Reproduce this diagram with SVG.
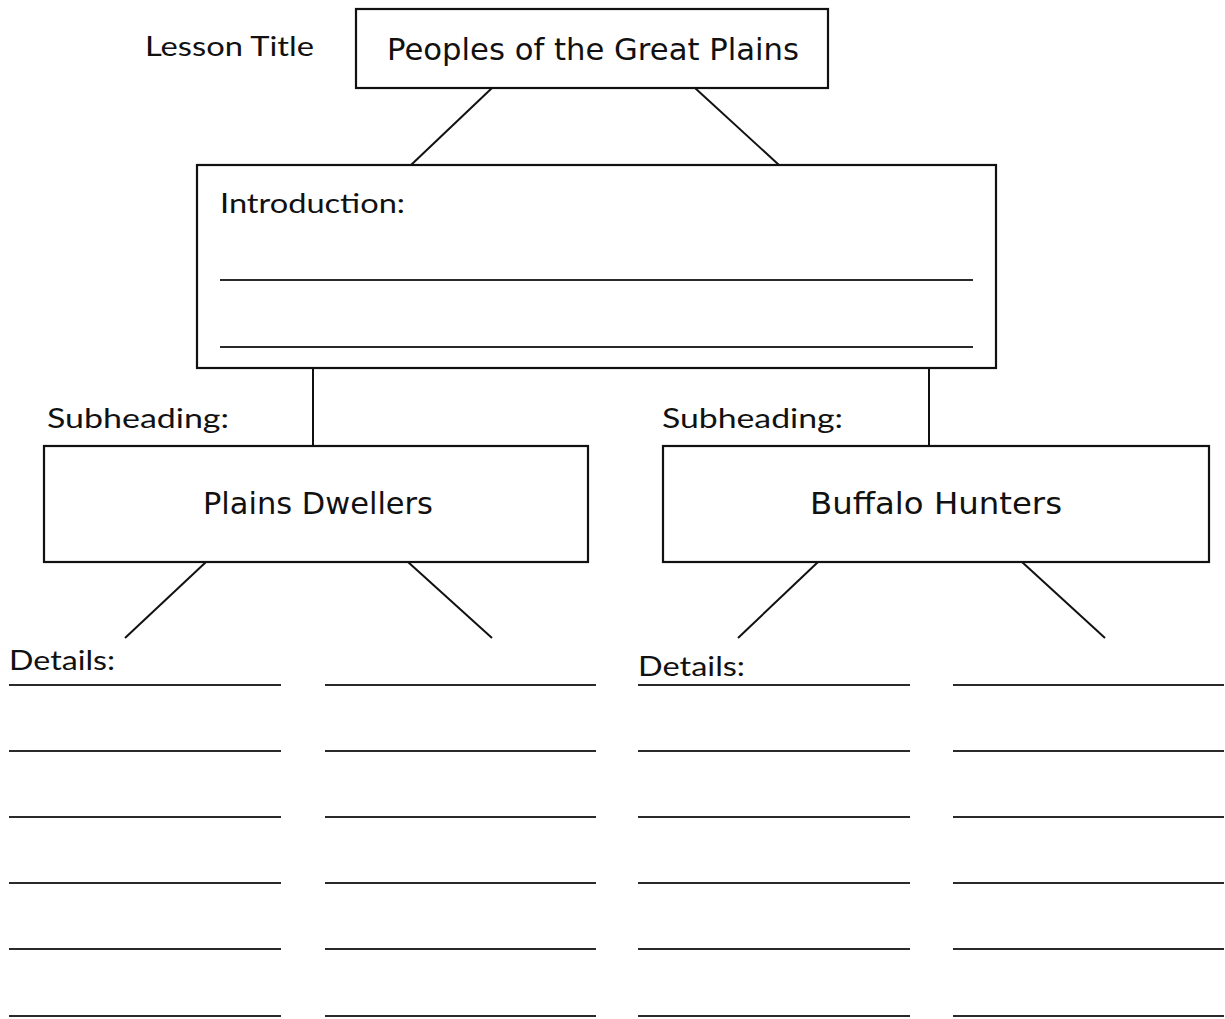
<svg xmlns="http://www.w3.org/2000/svg" width="1225" height="1019" viewBox="0 0 1225 1019">
  <style>
    .box { fill: #ffffff; stroke: #111111; stroke-width: 2.2; }
    .conn { stroke: #111111; stroke-width: 2; fill: none; }
    .rule { stroke: #2a2a2a; stroke-width: 1.8; }
    .label { font-family: "Lato", "Open Sans", "Liberation Sans", sans-serif; font-size: 26px; font-weight: 400; fill: #111111; }
    .hand { font-family: "DejaVu Sans", "Liberation Sans", sans-serif; font-size: 30px; font-weight: 400; fill: #111111; }
  </style>
  <rect width="1225" height="1019" fill="#ffffff"/>

  <!-- connectors between the boxes -->
  <g id="connectors">
    <line class="conn" x1="492" y1="88" x2="411" y2="165"/>
    <line class="conn" x1="695" y1="88" x2="779" y2="165"/>
    <line class="conn" x1="313" y1="368" x2="313" y2="446"/>
    <line class="conn" x1="929" y1="368" x2="929" y2="446"/>
    <line class="conn" x1="206" y1="562" x2="125" y2="638"/>
    <line class="conn" x1="408" y1="562" x2="492" y2="638"/>
    <line class="conn" x1="818" y1="562" x2="738" y2="638"/>
    <line class="conn" x1="1022" y1="562" x2="1105" y2="638"/>
  </g>

  <!-- lesson title -->
  <g id="title">
    <text class="label" x="145" y="56" textLength="169" lengthAdjust="spacingAndGlyphs">Lesson Title</text>
    <rect class="box" x="356" y="9" width="472" height="79"/>
    <text class="hand" x="387" y="60" textLength="412" lengthAdjust="spacingAndGlyphs">Peoples of the Great Plains</text>
  </g>

  <!-- introduction -->
  <g id="introduction">
    <rect class="box" x="197" y="165" width="799" height="203"/>
    <text class="label" x="220" y="213" textLength="185" lengthAdjust="spacingAndGlyphs">Introduction:</text>
    <line class="rule" x1="220" y1="280" x2="973" y2="280"/>
    <line class="rule" x1="220" y1="347" x2="973" y2="347"/>
  </g>

  <!-- left subheading -->
  <g id="sub-left">
    <text class="label" x="47" y="428" textLength="182" lengthAdjust="spacingAndGlyphs">Subheading:</text>
    <rect class="box" x="44" y="446" width="544" height="116"/>
    <text class="hand" x="203" y="514" textLength="230" lengthAdjust="spacingAndGlyphs">Plains Dwellers</text>
  </g>

  <!-- right subheading -->
  <g id="sub-right">
    <text class="label" x="662" y="428" textLength="181" lengthAdjust="spacingAndGlyphs">Subheading:</text>
    <rect class="box" x="663" y="446" width="546" height="116"/>
    <text class="hand" x="810" y="514" textLength="252" lengthAdjust="spacingAndGlyphs">Buffalo Hunters</text>
  </g>

  <!-- detail lines, left group -->
  <g id="details-left">
    <text class="label" x="9" y="670" textLength="106" lengthAdjust="spacingAndGlyphs">Details:</text>
    <line class="rule" x1="9" y1="685" x2="281" y2="685"/>
    <line class="rule" x1="9" y1="751" x2="281" y2="751"/>
    <line class="rule" x1="9" y1="817" x2="281" y2="817"/>
    <line class="rule" x1="9" y1="883" x2="281" y2="883"/>
    <line class="rule" x1="9" y1="949" x2="281" y2="949"/>
    <line class="rule" x1="9" y1="1016" x2="281" y2="1016"/>
    <line class="rule" x1="325" y1="685" x2="596" y2="685"/>
    <line class="rule" x1="325" y1="751" x2="596" y2="751"/>
    <line class="rule" x1="325" y1="817" x2="596" y2="817"/>
    <line class="rule" x1="325" y1="883" x2="596" y2="883"/>
    <line class="rule" x1="325" y1="949" x2="596" y2="949"/>
    <line class="rule" x1="325" y1="1016" x2="596" y2="1016"/>
  </g>

  <!-- detail lines, right group -->
  <g id="details-right">
    <text class="label" x="638" y="676" textLength="107" lengthAdjust="spacingAndGlyphs">Details:</text>
    <line class="rule" x1="638" y1="685" x2="910" y2="685"/>
    <line class="rule" x1="638" y1="751" x2="910" y2="751"/>
    <line class="rule" x1="638" y1="817" x2="910" y2="817"/>
    <line class="rule" x1="638" y1="883" x2="910" y2="883"/>
    <line class="rule" x1="638" y1="949" x2="910" y2="949"/>
    <line class="rule" x1="638" y1="1016" x2="910" y2="1016"/>
    <line class="rule" x1="953" y1="685" x2="1224" y2="685"/>
    <line class="rule" x1="953" y1="751" x2="1224" y2="751"/>
    <line class="rule" x1="953" y1="817" x2="1224" y2="817"/>
    <line class="rule" x1="953" y1="883" x2="1224" y2="883"/>
    <line class="rule" x1="953" y1="949" x2="1224" y2="949"/>
    <line class="rule" x1="953" y1="1016" x2="1224" y2="1016"/>
  </g>
</svg>
